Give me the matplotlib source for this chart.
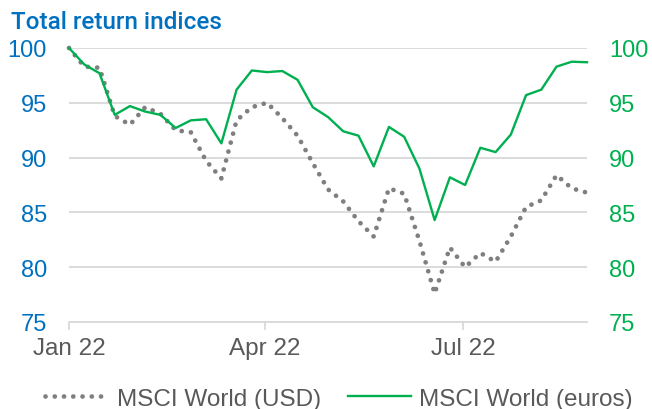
import numpy as np
import pandas as pd
import matplotlib
matplotlib.use('Agg')
import matplotlib.pyplot as plt
import matplotlib.dates as mdates

# weekly total return indices, rebased to 100
dates = pd.date_range('2022-01-01', periods=35, freq='7D')
msci_usd = [100, 98.3, 98.2, 93.8, 93.0, 94.6, 94.0, 92.5, 92.3, 89.7,
            88.1, 93.4, 94.6, 95.0, 93.6, 92.0, 89.5, 87.1, 86.0, 84.2,
            82.8, 87.2, 86.7, 82.4, 77.6, 81.8, 80.0, 81.3, 80.5, 82.8,
            85.5, 86.1, 88.4, 87.2, 86.8]
msci_eur = [100, 98.5, 97.7, 93.9, 94.7, 94.2, 93.9, 92.7, 93.4, 93.5,
            91.3, 96.2, 97.95, 97.8, 97.9, 97.1, 94.6, 93.7, 92.4, 92.0,
            89.2, 92.8, 91.9, 89.0, 84.3, 88.2, 87.5, 90.9, 90.5, 92.1,
            95.7, 96.2, 98.3, 98.75, 98.7]
yticks = [75, 80, 85, 90, 95, 100]
xticks = ['2022-01-01', '2022-04-01', '2022-07-01']
xlabels = ['Jan 22', 'Apr 22', 'Jul 22']

blue = '#0070C0'
green = '#00B050'
grey = '#7F7F7F'
textgrey = '#595959'

plt.rcParams['font.family'] = ['Liberation Sans', 'DejaVu Sans']

fig = plt.figure(figsize=(6.52, 4.10), dpi=100)
ax = fig.add_axes([69 / 652, 1 - 323 / 410, 518 / 652, 274 / 410])

ax.plot(dates, msci_usd, color=grey, lw=3.4, linestyle=(0, (0.01, 1.95)),
        dash_capstyle='round', clip_on=False, label='MSCI World (USD)')
ax.plot(dates, msci_eur, color=green, lw=1.7, clip_on=False,
        label='MSCI World (euros)')

ax.set_ylim(75, 100)
ax.set_xlim(pd.Timestamp('2022-01-01'), pd.Timestamp('2022-08-27'))
ax.set_yticks(yticks)
ax.yaxis.grid(True, color='#D9D9D9', lw=1.3)
ax.set_axisbelow(True)
for s in ['top', 'right', 'left']:
    ax.spines[s].set_visible(False)
ax.spines['bottom'].set_color('#D9D9D9')
ax.spines['bottom'].set_linewidth(1.3)

ax.set_xticks([pd.Timestamp(d) for d in xticks])
ax.set_xticklabels(xlabels)
ax.tick_params(axis='x', colors='#D9D9D9', labelcolor=textgrey,
               labelsize=17.5, length=6, width=1.3, pad=5)
ax.tick_params(axis='y', length=0, labelcolor=blue, labelsize=17, pad=16)

ax2 = ax.twinx()
ax2.set_ylim(75, 100)
ax2.set_yticks(yticks)
ax2.tick_params(axis='y', length=0, labelcolor=green, labelsize=17, pad=16)
for s in ax2.spines.values():
    s.set_visible(False)

fig.text(11 / 652, 1 - 29 / 410, 'Total return indices', color=blue,
         fontsize=17.5, fontweight='medium', family=['Roboto', 'DejaVu Sans'])

fig.legend(loc='lower center', bbox_to_anchor=(0.52, -0.055), ncol=2,
           frameon=False, fontsize=17.5, labelcolor=textgrey,
           handlelength=2.6, handletextpad=0.35, columnspacing=1.1)

fig.savefig('out.png', dpi=100)
